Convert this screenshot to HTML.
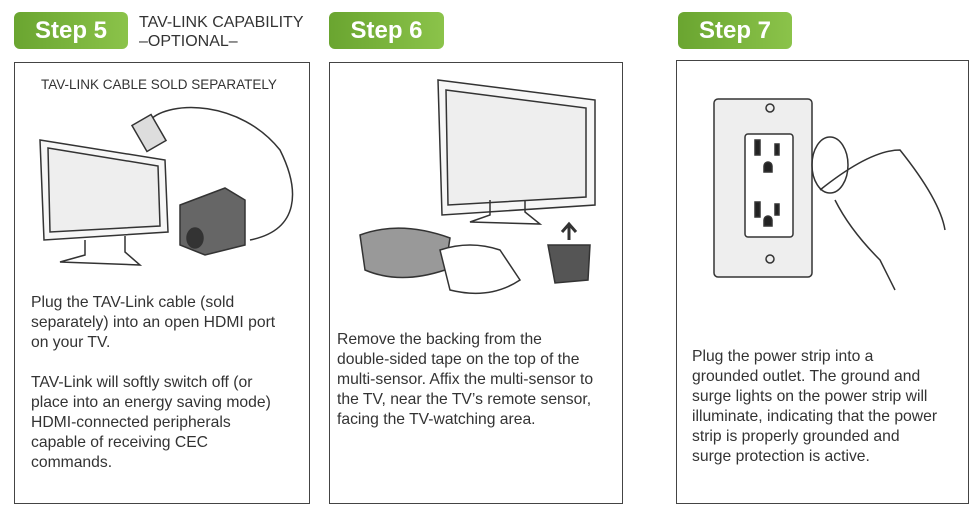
<!DOCTYPE html>
<html><head><style>
body{margin:0;width:974px;height:509px;background:#fff;position:relative;overflow:hidden;font-family:"Liberation Sans",sans-serif;color:#333}
.b{position:absolute;height:37px;border-radius:6px;background:linear-gradient(90deg,#6aa530,#8bc34a);color:#fff;font-weight:bold;font-size:24px;line-height:37px;text-align:center}
.p{position:absolute;border:1.5px solid #444;box-sizing:border-box}
.t{position:absolute;font-size:15.7px;line-height:20px;color:#333}
svg{position:absolute}
</style></head><body>
<div class="b" style="left:14px;top:12px;width:114px">Step 5</div>
<div class="t" style="left:139px;top:13px;font-size:16px;line-height:19px">TAV-LINK CAPABILITY<br>–OPTIONAL–</div>
<div class="b" style="left:329px;top:12px;width:115px">Step 6</div>
<div class="b" style="left:678px;top:12px;width:114px">Step 7</div>

<div class="p" style="left:14px;top:62px;width:296px;height:442px"></div>
<div class="p" style="left:329px;top:62px;width:294px;height:442px"></div>
<div class="p" style="left:676px;top:60px;width:293px;height:444px"></div>

<div class="t" style="left:41px;top:75px;font-size:13.5px">TAV-LINK CABLE SOLD SEPARATELY</div>

<svg width="974" height="509" style="left:0;top:0" fill="none" stroke="#333" stroke-width="1.5">
<path d="M40 140 L165 160 L168 232 L44 240 Z" fill="#f6f6f6"/>
<path d="M48 148 L158 166 L160 226 L50 232 Z" fill="#eee"/>
<path d="M85 240 L85 255 L60 262 L140 265 L125 252 L125 236"/>
<path d="M150 120 C170 100 240 100 280 150 C300 190 300 230 250 240"/>
<rect x="138" y="118" width="22" height="30" transform="rotate(-30 149 133)" fill="#ddd"/>
<path d="M180 205 L225 188 L245 200 L245 245 L205 255 L180 245 Z" fill="#666"/>
<ellipse cx="195" cy="238" rx="8" ry="10" fill="#333"/>
<path d="M438 80 L595 100 L595 205 L442 215 Z" fill="#f6f6f6"/>
<path d="M446 90 L586 108 L586 197 L448 205 Z" fill="#eee"/>
<path d="M490 200 L490 215 L470 222 L540 224 L525 212 L525 200"/>
<path d="M360 235 Q400 220 450 238 L445 270 Q400 285 365 270 Z" fill="#999"/>
<path d="M440 250 Q470 240 500 250 L520 280 Q490 300 450 290 Z" fill="#fff"/>
<path d="M548 245 L590 245 L588 280 L555 283 Z" fill="#555"/>
<path d="M569 240 L569 225 M562 232 L569 224 L576 232" stroke-width="3"/>
<rect x="714" y="99" width="98" height="178" rx="4" fill="#eee"/>
<rect x="745" y="134" width="48" height="103" rx="3" fill="#fff"/>
<circle cx="770" cy="108" r="4"/><circle cx="770" cy="259" r="4"/>
<rect x="755" y="140" width="5" height="15" fill="#222"/><rect x="775" y="144" width="4" height="11" fill="#222"/>
<rect x="755" y="202" width="5" height="15" fill="#222"/><rect x="775" y="204" width="4" height="11" fill="#222"/>
<path d="M764 166 a4 4 0 0 1 8 0 v6 h-8z M764 220 a4 4 0 0 1 8 0 v6 h-8z" fill="#222"/>
<ellipse cx="830" cy="165" rx="18" ry="28"/>
<path d="M820 190 Q870 150 900 150 Q940 200 945 230 M835 200 Q850 230 880 260 L895 290"/>
</svg>

<div class="t" style="left:31px;top:293px">Plug the TAV-Link cable (sold<br>separately) into an open HDMI port<br>on your TV.<br><br>TAV-Link will softly switch off (or<br>place into an energy saving mode)<br>HDMI-connected peripherals<br>capable of receiving CEC<br>commands.</div>
<div class="t" style="left:337px;top:330px">Remove the backing from the<br>double-sided tape on the top of the<br>multi-sensor. Affix the multi-sensor to<br>the TV, near the TV’s remote sensor,<br>facing the TV-watching area.</div>
<div class="t" style="left:692px;top:347px">Plug the power strip into a<br>grounded outlet. The ground and<br>surge lights on the power strip will<br>illuminate, indicating that the power<br>strip is properly grounded and<br>surge protection is active.</div>
</body></html>
